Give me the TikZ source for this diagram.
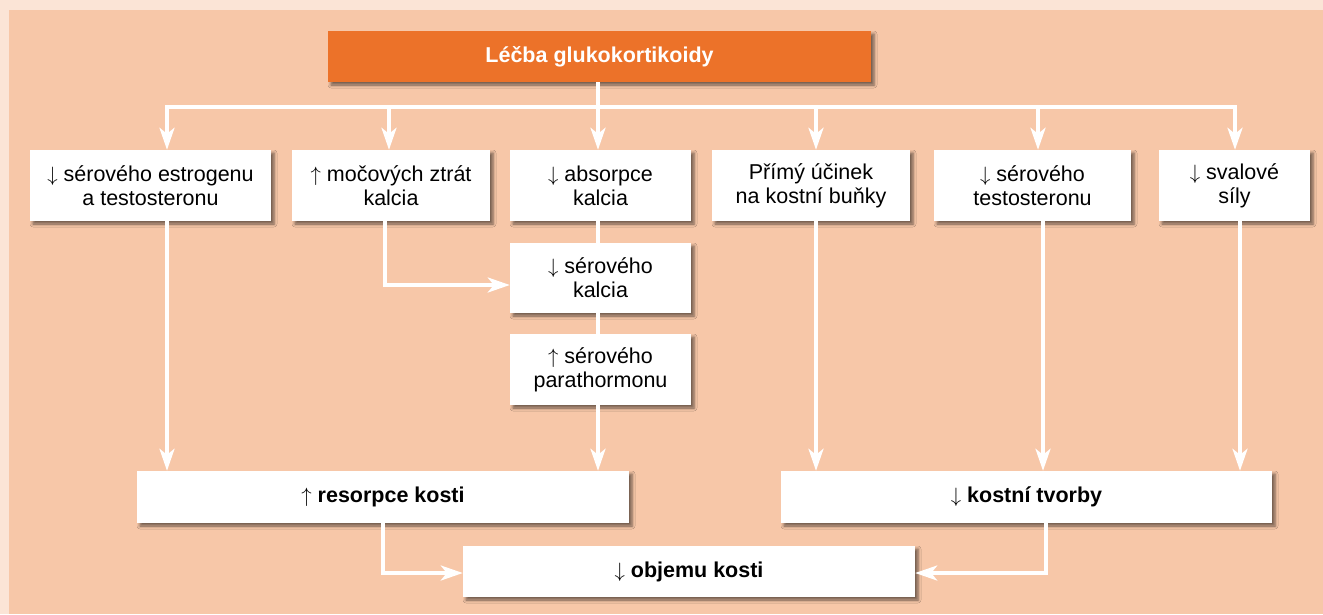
\documentclass[tikz,border=0pt]{standalone}
\usepackage{fontspec}
\setmainfont{Liberation Sans}
\usetikzlibrary{arrows.meta,shadows.blur}
\definecolor{outerbg}{HTML}{FBE4D6}
\definecolor{innerbg}{HTML}{F7C7A8}
\definecolor{titleor}{HTML}{EC7229}
\newcommand{\dnar}{$\downarrow$}
\newcommand{\upar}{$\uparrow$}
\tikzset{
  boxsh/.style={blur shadow={shadow xshift=3pt, shadow yshift=-3pt, shadow blur radius=3pt, shadow opacity=55}},
  wbox/.style={boxsh, fill=white, inner sep=0pt, align=center, font=\fontsize{21.5}{24}\selectfont},
  tbox/.style={boxsh, fill=titleor, text=white, inner sep=0pt, align=center, font=\fontsize{21.5}{24}\selectfont\bfseries},
  conn/.style={draw=white, line width=3.5pt},
  arr/.style={conn, -{Stealth[length=22pt,width=15pt,inset=6pt]}}
}
\begin{document}
\begin{tikzpicture}[x=1pt,y=-1pt]
\useasboundingbox (0,0) rectangle (1323,614);
\fill[outerbg] (0,0) rectangle (1323,614);
\fill[innerbg] (9,10) rectangle (1323,614);

\node[tbox, minimum width=543pt, minimum height=51pt] (title) at (599.5,56.5) {Léčba glukokortikoidy};

\node[wbox, minimum width=241pt, minimum height=71pt] (b1) at (150.5,185.5) {\dnar\ sérového estrogenu\\a testosteronu};
\node[wbox, minimum width=198pt, minimum height=71pt] (b2) at (391,185.5) {\upar\ močových ztrát\\kalcia};
\node[wbox, minimum width=181pt, minimum height=71pt] (b3) at (600.5,185.5) {\dnar\ absorpce\\kalcia};
\node[wbox, minimum width=198pt, minimum height=71pt] (b4) at (811,185.5) {Přímý účinek\\na kostní buňky};
\node[wbox, minimum width=197pt, minimum height=71pt] (b5) at (1032.5,185.5) {\dnar\ sérového\\testosteronu};
\node[wbox, minimum width=151pt, minimum height=71pt] (b6) at (1234.5,185.5) {\dnar\ svalové\\síly};

\node[wbox, minimum width=181pt, minimum height=70pt] (kal) at (600.5,278) {\dnar\ sérového\\kalcia};
\node[wbox, minimum width=181pt, minimum height=71pt] (pth) at (600.5,369.5) {\upar\ sérového\\parathormonu};

\node[wbox, minimum width=492pt, minimum height=52pt] (res) at (383,497) {\upar\ \textbf{resorpce kosti}};
\node[wbox, minimum width=491pt, minimum height=52pt] (tvo) at (1026.5,497) {\dnar\ \textbf{kostní tvorby}};
\node[wbox, minimum width=452pt, minimum height=51pt] (obj) at (689,571.5) {\dnar\ \textbf{objemu kosti}};

% bus
\coordinate (t1) at (167,107);
\coordinate (t2) at (389,107);
\coordinate (t3) at (598,107);
\coordinate (t4) at (816,107);
\coordinate (t5) at (1038,107);
\coordinate (t6) at (1235,107);
\draw[conn] (title.south -| t3) -- (t3);
\draw[conn, line cap=rect] (t1) -- (t6);
\draw[arr] (t1) -- (t1 |- b1.north);
\draw[arr] (t2) -- (t2 |- b2.north);
\draw[arr] (t3) -- (t3 |- b3.north);
\draw[arr] (t4) -- (t4 |- b4.north);
\draw[arr] (t5) -- (t5 |- b5.north);
\draw[arr] (t6) -- (t6 |- b6.north);

% middle column
\coordinate (m) at (598,0);
\draw[conn] (b3.south -| m) -- (kal.north -| m);
\draw[conn] (kal.south -| m) -- (pth.north -| m);
\draw[arr] (pth.south -| m) -- (res.north -| m);

\coordinate (c2) at (385,285);
\draw[arr] (b2.south -| c2) -- (c2) -- (c2 -| kal.west);

% to lower boxes
\coordinate (d1) at (167,0);
\coordinate (d4) at (816,0);
\coordinate (d5) at (1043,0);
\coordinate (d6) at (1240,0);
\draw[arr] (b1.south -| d1) -- (res.north -| d1);
\draw[arr] (b4.south -| d4) -- (tvo.north -| d4);
\draw[arr] (b5.south -| d5) -- (tvo.north -| d5);
\draw[arr] (b6.south -| d6) -- (tvo.north -| d6);

% to objemu
\coordinate (e1) at (383,573);
\coordinate (e2) at (1046,573);
\draw[arr] (res.south -| e1) -- (e1) -- (e1 -| obj.west);
\draw[arr] (tvo.south -| e2) -- (e2) -- (e2 -| obj.east);
\end{tikzpicture}
\end{document}
